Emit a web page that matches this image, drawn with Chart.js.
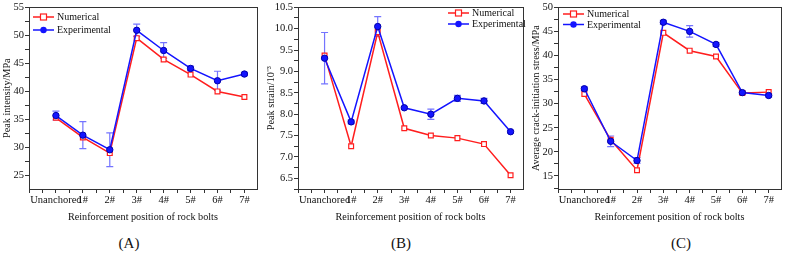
<!DOCTYPE html>
<html>
<head>
<meta charset="utf-8">
<script src="https://cdn.jsdelivr.net/npm/chart.js@4.4.1/dist/chart.umd.min.js"></script>
<style>
  html, body { margin: 0; padding: 0; background: #fff; }
  #wrap { position: relative; width: 786px; height: 255px; overflow: hidden; }
  canvas { position: absolute; top: 0; }
  .tag { position: absolute; top: 235px; font: 15px "Liberation Serif", serif; color: #111;
         transform: translateX(-50%); white-space: nowrap; }
</style>
</head>
<body>
<div id="wrap">
  <canvas id="chartA" width="262" height="225" style="left:0px"></canvas>
  <canvas id="chartB" width="266" height="225" style="left:262px"></canvas>
  <canvas id="chartC" width="258" height="225" style="left:528px"></canvas>
  <div class="tag" style="left:129px">(A)</div>
  <div class="tag" style="left:401px">(B)</div>
  <div class="tag" style="left:681px">(C)</div>
</div>
<script>
// ---- Data ------------------------------------------------------------------
const positions = ['Unanchored', '1#', '2#', '3#', '4#', '5#', '6#', '7#'];

// (A) Peak intensity / MPa
const peakNum = [35.3, 31.8, 29.0, 49.5, 45.7, 43.0, 40.0, 39.0];
const peakExp = [35.7, 32.2, 29.6, 50.9, 47.3, 44.1, 41.9, 43.1];
const peakErr = [0.8, 2.4, 3.0, 1.1, 1.4, 0.4, 1.7, 0.3];

// (B) Peak strain / 10^-3
const strainNum = [9.37, 7.25, 9.92, 7.67, 7.50, 7.44, 7.30, 6.57];
const strainExp = [9.31, 7.82, 10.05, 8.15, 8.00, 8.37, 8.31, 7.59];
const strainErr = [0.60, 0.04, 0.23, 0.03, 0.12, 0.07, 0.06, 0.03];

// (C) Average crack-initiation stress / MPa
const crackNum = [32.0, 22.5, 16.2, 44.7, 41.0, 39.8, 32.2, 32.4];
const crackExp = [33.1, 22.2, 18.2, 46.9, 45.0, 42.3, 32.3, 31.7];
const crackErr = [0.4, 1.1, 0.6, 0.4, 1.2, 0.4, 0.3, 0.3];

const RED = 'rgb(255, 30, 30)';
const BLUE = 'rgb(20, 20, 255)';
const ERR_BLUE = 'rgba(70, 70, 255, 0.75)';
const AXIS = '#333';
const SERIF = '"Liberation Serif", "Times New Roman", serif';

function toPoints(values) {
    return values.map((v, i) => ({ x: i, y: v }));
}

// Evenly stepped tick values between lo and hi (major + minor marks).
function stepTicks(lo, hi, step) {
    const out = [];
    const n0 = Math.ceil(lo / step - 1e-9);
    for (let n = n0; n * step <= hi + 1e-9; n++) out.push({ value: +(n * step).toFixed(6) });
    return out;
}

// Box frame round the plot area (top + right edges like the original).
const framePlugin = {
    id: 'frame',
    afterDraw(chart) {
        const a = chart.chartArea;
        const c = chart.ctx;
        c.save();
        c.strokeStyle = AXIS;
        c.lineWidth = 1;
        c.strokeRect(Math.round(a.left) + 0.5, Math.round(a.top) + 0.5,
                     Math.round(a.right - a.left), Math.round(a.bottom - a.top));
        c.restore();
    }
};

// Vertical error bars for the experimental series, drawn through the scales.
const errorBarPlugin = {
    id: 'errorBars',
    beforeDatasetsDraw(chart, args, opts) {
        if (!opts.errors) return;
        const xs = chart.scales.x, ys = chart.scales.y;
        const vals = opts.values;
        const c = chart.ctx;
        c.save();
        c.strokeStyle = ERR_BLUE;
        c.lineWidth = 1.2;
        opts.errors.forEach((e, i) => {
            const px = xs.getPixelForValue(i);
            const top = ys.getPixelForValue(vals[i] + e);
            const bot = ys.getPixelForValue(vals[i] - e);
            c.beginPath();
            c.moveTo(px, top); c.lineTo(px, bot);
            c.moveTo(px - 3.5, top); c.lineTo(px + 3.5, top);
            c.moveTo(px - 3.5, bot); c.lineTo(px + 3.5, bot);
            c.stroke();
        });
        c.restore();
    }
};

// Legend drawn inside the plot, like the original figure.
const innerLegendPlugin = {
    id: 'innerLegend',
    afterDraw(chart, args, opts) {
        const c = chart.ctx;
        const rows = [
            { text: 'Numerical', color: RED, square: true },
            { text: 'Experimental', color: BLUE, square: false }
        ];
        c.save();
        c.font = '10px ' + SERIF;
        c.textBaseline = 'middle';
        rows.forEach((r, k) => {
            const y = opts.y + k * opts.gap;
            const x0 = opts.x, x1 = opts.x + 21, xm = (x0 + x1) / 2;
            c.strokeStyle = r.color;
            c.lineWidth = 1.5;
            c.beginPath(); c.moveTo(x0, y); c.lineTo(x1, y); c.stroke();
            if (r.square) {
                c.fillStyle = '#fff';
                c.fillRect(xm - 3, y - 3, 6, 6);
                c.lineWidth = 1.2;
                c.strokeRect(xm - 3, y - 3, 6, 6);
            } else {
                c.fillStyle = r.color;
                c.beginPath(); c.arc(xm, y, 3.2, 0, Math.PI * 2); c.fill();
            }
            c.fillStyle = '#111';
            c.fillText(r.text, x1 + 3, y + 0.5);
        });
        c.restore();
    }
};

function buildChart(id, cfg) {
    const yMajor = cfg.yMajor;
    return new Chart(document.getElementById(id), {
        type: 'line',
        data: {
            datasets: [
                {
                    label: 'Experimental',
                    data: toPoints(cfg.exp),
                    borderColor: BLUE,
                    backgroundColor: BLUE,
                    borderWidth: 1.5,
                    pointStyle: 'circle',
                    pointRadius: 3.2,
                    pointBackgroundColor: BLUE,
                    pointBorderColor: 'rgb(0, 0, 170)',
                    pointBorderWidth: 1,
                    tension: 0
                },
                {
                    label: 'Numerical',
                    data: toPoints(cfg.num),
                    borderColor: RED,
                    backgroundColor: '#fff',
                    borderWidth: 1.5,
                    pointStyle: 'rect',
                    pointRadius: 3.4,
                    pointBackgroundColor: '#fff',
                    pointBorderColor: RED,
                    pointBorderWidth: 1.2,
                    tension: 0
                }
            ]
        },
        options: {
            responsive: false,
            animation: false,
            layout: { padding: { left: 0, right: cfg.padRight, top: cfg.padTop, bottom: 0 } },
            scales: {
                x: {
                    type: 'linear',
                    min: -1,
                    max: 7.46,
                    afterFit(scale) { scale.height = 36; },
                    afterBuildTicks(scale) { scale.ticks = stepTicks(-1, 7, 0.5); },
                    grid: { drawOnChartArea: false, drawTicks: true, tickLength: 4, color: AXIS },
                    border: { color: AXIS, width: 1 },
                    ticks: {
                        autoSkip: false,
                        maxRotation: 0,
                        padding: 1,
                        color: '#111',
                        font: { family: SERIF, size: 10.5 },
                        callback(v) {
                            return (Number.isInteger(v) && v >= 0 && v <= 7) ? positions[v] : '';
                        }
                    },
                    title: {
                        display: true,
                        text: 'Reinforcement position of rock bolts',
                        color: '#111',
                        font: { family: SERIF, size: 10.2 },
                        padding: { top: 0, bottom: 2 }
                    }
                },
                y: {
                    min: cfg.yMin,
                    max: cfg.yMax,
                    afterFit(scale) { scale.width = cfg.yWidth; },
                    afterBuildTicks(scale) { scale.ticks = stepTicks(cfg.yMin, cfg.yMax, cfg.yStep); },
                    grid: { drawOnChartArea: false, drawTicks: true, tickLength: 4, color: AXIS },
                    border: { color: AXIS, width: 1 },
                    ticks: {
                        autoSkip: false,
                        padding: 1,
                        color: '#111',
                        font: { family: SERIF, size: 10.5 },
                        callback(v) {
                            const r = v / yMajor;
                            if (Math.abs(r - Math.round(r)) > 1e-6) return '';
                            return cfg.yDecimals ? v.toFixed(cfg.yDecimals) : String(v);
                        }
                    },
                    title: {
                        display: true,
                        text: cfg.yTitle,
                        color: '#111',
                        font: { family: SERIF, size: 10.2 },
                        padding: { top: cfg.titlePad, bottom: 0 }
                    }
                }
            },
            plugins: {
                legend: { display: false },
                tooltip: { enabled: false },
                errorBars: { errors: cfg.err, values: cfg.exp },
                innerLegend: cfg.legend
            }
        },
        plugins: [errorBarPlugin, framePlugin, innerLegendPlugin]
    });
}

buildChart('chartA', {
    num: peakNum, exp: peakExp, err: peakErr,
    yMin: 22.6, yMax: 55, yStep: 2.5, yMajor: 5, yDecimals: 0,
    yTitle: 'Peak intensity/MPa',
    yWidth: 29, padRight: 5, padTop: 6, titlePad: 1,
    legend: { x: 33, y: 17, gap: 13 }
});

buildChart('chartB', {
    num: strainNum, exp: strainExp, err: strainErr,
    yMin: 6.25, yMax: 10.5, yStep: 0.25, yMajor: 0.5, yDecimals: 1,
    yTitle: 'Peak strain/10\u207B\u00B3',
    yWidth: 36, padRight: 3, padTop: 5, titlePad: 3,
    legend: { x: 186, y: 13, gap: 11 }
});

buildChart('chartC', {
    num: crackNum, exp: crackExp, err: crackErr,
    yMin: 12.3, yMax: 50, yStep: 2.5, yMajor: 5, yDecimals: 0,
    yTitle: 'Average crack-initiation stress/MPa',
    yWidth: 30, padRight: 4, padTop: 6, titlePad: 2,
    legend: { x: 35, y: 14, gap: 10.5 }
});
</script>
</body>
</html>
